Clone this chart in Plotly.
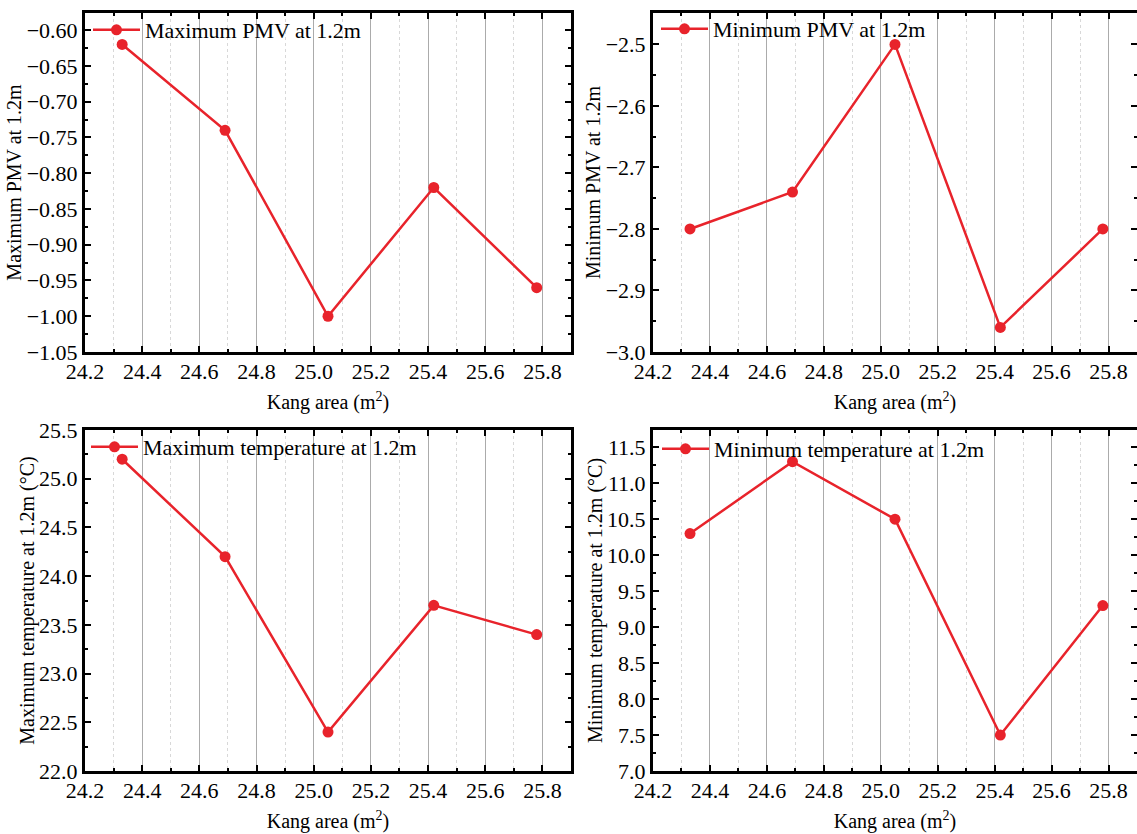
import plotly.graph_objects as go

# Kang area (m²) of the five tested configurations
kang_area = [24.33, 24.69, 25.05, 25.42, 25.78]

# Values measured at 1.2 m height
pmv_max = [-0.62, -0.74, -1.00, -0.82, -0.96]
pmv_min = [-2.80, -2.74, -2.50, -2.96, -2.80]
temp_max = [25.2, 24.2, 22.4, 23.7, 23.4]
temp_min = [10.3, 11.3, 10.5, 7.5, 9.3]

series_names = [
    "Maximum PMV at 1.2m",
    "Minimum PMV at 1.2m",
    "Maximum temperature at 1.2m",
    "Minimum temperature at 1.2m",
]
y_titles = [
    "Maximum PMV at 1.2m",
    "Minimum PMV at 1.2m",
    "Maximum temperature at 1.2m (°C)",
    "Minimum temperature at 1.2m (°C)",
]
x_title = "Kang area (m<sup>2</sup>)"

W, H = 1137, 834
FONT = "Liberation Serif, Times New Roman, serif"
RED = "#e8232b"


def fx(p):
    return p / W


def fy(p):
    return 1 - p / H


# panel boxes in pixels: (left, right, top, bottom)
boxes = [
    (85, 571, 13, 352),
    (653, 1137, 13, 352),
    (85, 571, 430, 771),
    (653, 1137, 430, 771),
]
y_ranges = [[-1.05, -0.576], [-3.0, -2.449], [22.0, 25.5], [7.0, 11.74]]
y_dticks = [0.05, 0.1, 0.5, 0.5]
y_formats = [".2f", ".1f", ".1f", ".1f"]
data = [pmv_max, pmv_min, temp_max, temp_min]

fig = go.Figure()
layout = dict(
    width=W,
    height=H,
    margin=dict(l=0, r=0, t=0, b=0, autoexpand=False),
    paper_bgcolor="white",
    plot_bgcolor="white",
    font=dict(family=FONT, size=21, color="black"),
    showlegend=True,
)

# legend item anchors (pixels): left edge of the item, vertical centre
legend_pos = [(88, 30), (656, 29), (86, 447), (657, 449)]

for i in range(4):
    n = "" if i == 0 else str(i + 1)
    xa, ya = "x" + n, "y" + n
    lg = "legend" + n
    fig.add_trace(
        go.Scatter(
            x=kang_area,
            y=data[i],
            mode="lines+markers",
            name=series_names[i],
            line=dict(color=RED, width=2.5),
            marker=dict(color=RED, size=11, symbol="circle"),
            xaxis=xa,
            yaxis=ya,
            legend=lg,
        )
    )
    l, r, t, b = boxes[i]
    layout["xaxis" + n] = dict(
        domain=[fx(l), min(fx(r), 1.0)],
        anchor=ya,
        automargin=False,
        range=[24.2, 25.9],
        tick0=24.2,
        dtick=0.2,
        tickformat=".1f",
        ticks="inside",
        ticklen=6,
        tickwidth=2,
        tickcolor="black",
        ticklabelstandoff=-2,
        showline=True,
        linecolor="black",
        linewidth=3,
        mirror="allticks",
        showgrid=True,
        gridcolor="#ababab",
        gridwidth=1,
        zeroline=False,
        tickfont=dict(family=FONT, size=22),
        title=dict(text=x_title, font=dict(family=FONT, size=20), standoff=12),
        minor=dict(
            dtick=0.1,
            tick0=24.2,
            ticks="inside",
            ticklen=3,
            tickwidth=2,
            tickcolor="black",
            showgrid=True,
            gridcolor="#d8d8d8",
            griddash="dot",
            gridwidth=1,
        ),
    )
    layout["yaxis" + n] = dict(
        domain=[fy(b), fy(t)],
        anchor=xa,
        automargin=False,
        range=y_ranges[i],
        dtick=y_dticks[i],
        tick0=y_ranges[i][0],
        tickformat=y_formats[i],
        ticks="inside",
        ticklen=6,
        tickwidth=2,
        tickcolor="black",
        showline=True,
        linecolor="black",
        linewidth=3,
        mirror="allticks",
        showgrid=False,
        zeroline=False,
        tickfont=dict(family=FONT, size=22),
        title=dict(text=y_titles[i], font=dict(family=FONT, size=20), standoff=0),
        minor=dict(
            dtick=y_dticks[i] / 2,
            tick0=y_ranges[i][0],
            ticks="inside",
            ticklen=3,
            tickwidth=2,
            tickcolor="black",
            showgrid=False,
        ),
    )
    lx, ly = legend_pos[i]
    layout[lg] = dict(
        x=fx(lx),
        y=fy(ly),
        xanchor="left",
        yanchor="middle",
        bgcolor="rgba(0,0,0,0)",
        borderwidth=0,
        itemwidth=47,
        font=dict(family=FONT, size=22),
    )

fig.update_layout(**layout)
fig.write_html("out.html")
